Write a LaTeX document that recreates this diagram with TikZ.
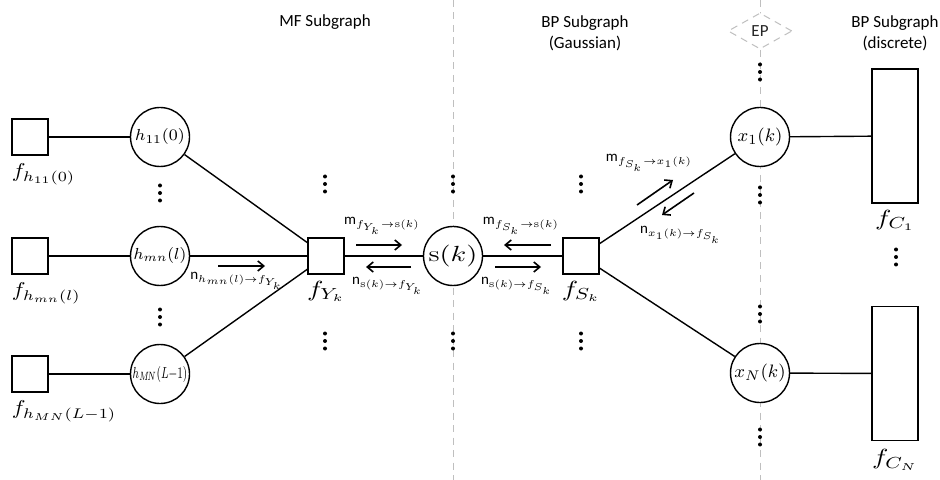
\documentclass[tikz,border=0pt]{standalone}
\usepackage{amsmath}
\usepackage{fontspec}
\setsansfont{Carlito}
\usetikzlibrary{arrows.meta,shapes.geometric}

\begin{document}
\begin{tikzpicture}[x=0.5pt,y=-0.5pt]
\tikzstyle{every node}+=[inner sep=0pt]
\tikzstyle{var}=[draw,circle,line width=0.7pt,fill=white,minimum size=29.5pt]
\tikzstyle{fac}=[draw,rectangle,line width=0.7pt,fill=white,minimum size=18pt]
\tikzstyle{cfac}=[draw,rectangle,line width=0.7pt,fill=white,minimum width=23pt,minimum height=67pt]
\tikzstyle{link}=[line width=0.7pt]
\tikzstyle{msg}=[line width=0.8pt,-{Straight Barb[length=3pt,width=5pt]}]
\tikzstyle{msglbl}=[font=\fontsize{7.5}{9}\selectfont]
\tikzstyle{flbl}=[font=\fontsize{11}{12}\selectfont,xscale=1.25]
\tikzstyle{hlbl}=[font=\fontsize{10}{12}\selectfont,xscale=1.15]
\tikzstyle{divider}=[black!25,line width=0.5pt,dash pattern=on 3.5pt off 2.75pt]
\tikzstyle{hdr}=[font=\sffamily\fontsize{8.5}{10.5}\selectfont,align=center]
\useasboundingbox (0,0) rectangle (940,480);

% subgraph borders
\coordinate (d1a) at (453,0);
\coordinate (d1b) at (453,480);
\coordinate (d2a) at (760,0);
\coordinate (d2b) at (760,480);
\draw [divider] (d1a) -- (d1b);
\draw [divider] (d2a) -- (d2b);

\node [hdr] (mf) at (325,22) {MF Subgraph};
\node [hdr] (bpg) at (585,33) {BP Subgraph\\(Gaussian)};
\node [hdr] (bpd) at (895,33) {BP Subgraph\\(discrete)};
\node [diamond,draw=black!25,dash pattern=on 3.5pt off 2.75pt,line width=0.5pt,fill=white,
  minimum width=32pt,minimum height=18pt,font=\sffamily\fontsize{8.5}{10}\selectfont,text=black!85] (ep) at (760,31) {EP};

% variable and factor nodes
\node [fac] (fh1) at (30,137) {};
\node [var,font=\fontsize{8.5}{9}\selectfont] (h1) at (160,137) {\scalebox{1.05}[1]{$h_{11}(0)$}};
\node [fac] (fh2) at (30,256) {};
\node [var,font=\fontsize{8.5}{9}\selectfont] (h2) at (160,256) {\scalebox{1.02}[1]{$h_{mn}(l)$}};
\node [fac] (fh3) at (30,374) {};
\node [var,font=\fontsize{8}{9}\selectfont] (h3) at (160,374) {\scalebox{0.66}[1]{$h_{M\!N}(L{-}1)$}};
\node [fac] (fy) at (326,256) {};
\node [var,font=\fontsize{11}{12}\selectfont] (s) at (453,256) {\scalebox{1.3}[1]{$\mathrm{s}(k)$}};
\node [fac] (fs) at (581,256) {};
\node [var,font=\fontsize{9.5}{10}\selectfont] (x1) at (760,137) {\scalebox{1.02}[1]{$x_1(k)$}};
\node [var,font=\fontsize{9.5}{10}\selectfont] (xn) at (760,373) {\scalebox{1.02}[1]{$x_N(k)$}};
\node [cfac] (fc1) at (895,136) {};
\node [cfac] (fcn) at (895,373.5) {};

\draw [link] (fh1) -- (h1);
\draw [link] (fh2) -- (h2);
\draw [link] (fh3) -- (h3);
\draw [link] (h1) -- (fy);
\draw [link] (h2) -- (fy);
\draw [link] (h3) -- (fy);
\draw [link] (fy) -- (s);
\draw [link] (s) -- (fs);
\draw [link] (fs) -- (x1);
\draw [link] (fs) -- (xn);
\draw [link] (x1) -- (fc1);
\draw [link] (xn) -- (fcn);

% factor labels
\node [hlbl,anchor=north west] (lfh1) at ([yshift=-4pt]fh1.south west) {$f_{h_{11}(0)}$};
\node [hlbl,anchor=north west] (lfh2) at ([yshift=-4pt]fh2.south west) {$f_{h_{mn}(l)}$};
\node [hlbl,anchor=north west] (lfh3) at ([yshift=-4pt]fh3.south west) {$f_{h_{MN}(L-1)}$};
\node [flbl,anchor=north] (lfy) at ([yshift=-3pt]fy.south) {$f_{Y_k}$};
\node [flbl,anchor=north] (lfs) at ([yshift=-3pt]fs.south) {$f_{S_k}$};
\node [flbl,anchor=north] (lfc1) at ([yshift=-3pt]fc1.south) {$f_{C_1}$};
\node [flbl,anchor=north] (lfcn) at ([yshift=-4pt]fcn.south) {$f_{C_N}$};

% messages
\coordinate (a1) at (218,266);
\coordinate (b1) at (265,266);
\draw [msg] (a1) -- (b1);
\node [msglbl] (n1) at (237,281) {$\mathsf{n}_{h_{mn}(l)\to f_{Y_k}}$};
\coordinate (a2) at (356,245);
\coordinate (b2) at (402,245);
\draw [msg] (a2) -- (b2);
\node [msglbl] (m2) at (382,226) {$\mathsf{m}_{f_{Y_k}\to\mathrm{s}(k)}$};
\coordinate (a3) at (411,267);
\coordinate (b3) at (366,267);
\draw [msg] (a3) -- (b3);
\node [msglbl] (n3) at (388,286) {$\mathsf{n}_{\mathrm{s}(k)\to f_{Y_k}}$};
\coordinate (a4) at (551,245);
\coordinate (b4) at (504,245);
\draw [msg] (a4) -- (b4);
\node [msglbl] (m4) at (521,226) {$\mathsf{m}_{f_{S_k}\to\mathrm{s}(k)}$};
\coordinate (a5) at (495,267);
\coordinate (b5) at (541,267);
\draw [msg] (a5) -- (b5);
\node [msglbl] (n5) at (517,286) {$\mathsf{n}_{\mathrm{s}(k)\to f_{S_k}}$};
\coordinate (a6) at (637,205);
\coordinate (b6) at (673,180);
\draw [msg] (a6) -- (b6);
\node [msglbl] (m6) at (649,163) {$\mathsf{m}_{f_{S_k}\to x_1(k)}$};
\coordinate (a7) at (694,193);
\coordinate (b7) at (662,215);
\draw [msg] (a7) -- (b7);
\node [msglbl] (n7) at (681,235) {$\mathsf{n}_{x_1(k)\to f_{S_k}}$};

% dots
\foreach \x/\y in {160/193,160/317,325/184,453/184,581/184,325/341,453/341,581/341,760/72,760/195,760/314,760/437,896/257}
  \foreach \d in {-7.5,0,7.5}
    \fill (\x,\y+\d) circle (2);
\end{tikzpicture}
\end{document}
